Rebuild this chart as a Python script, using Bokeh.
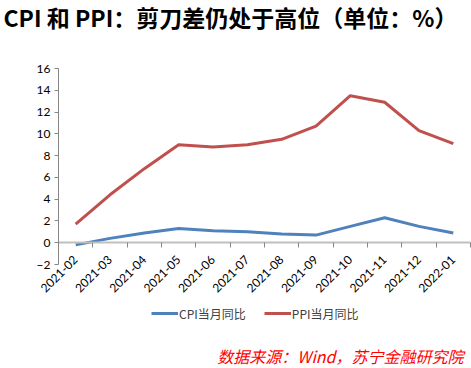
import math
from bokeh.plotting import figure
from bokeh.models import (FixedTicker, Legend, LegendItem, Range1d, Label)
from bokeh.embed import file_html
from bokeh.resources import INLINE

months = ["2021-02", "2021-03", "2021-04", "2021-05", "2021-06", "2021-07",
          "2021-08", "2021-09", "2021-10", "2021-11", "2021-12", "2022-01"]
cpi = [-0.2, 0.4, 0.9, 1.3, 1.1, 1.0, 0.8, 0.7, 1.5, 2.3, 1.5, 0.9]
ppi = [1.7, 4.4, 6.8, 9.0, 8.8, 9.0, 9.5, 10.7, 13.5, 12.9, 10.3, 9.1]
y_ticks = [-2, 0, 2, 4, 6, 8, 10, 12, 14, 16]

title_text = "CPI 和 PPI：剪刀差仍处于高位（单位：%）"
source_text = "数据来源：Wind，苏宁金融研究院"
cpi_name = "CPI当月同比"
ppi_name = "PPI当月同比"

xs = list(range(len(months)))
bounds = [x - 0.5 for x in xs] + [len(xs) - 0.5]
y_lo, y_hi = y_ticks[0], y_ticks[-1]
x_lo, x_hi = -0.5, len(xs) - 0.5

W, H = 471, 368
# plot area in canvas pixels
fx0, fx1, fy0, fy1 = 58, 470, 68, 264
xs_per_px = (x_hi - x_lo) / (fx1 - fx0)
ys_per_px = (y_hi - y_lo) / (fy1 - fy0)
xr = Range1d(x_lo - fx0 * xs_per_px, x_hi + (W - fx1) * xs_per_px)
yr = Range1d(y_lo - (H - fy1) * ys_per_px, y_hi + fy0 * ys_per_px)

p = figure(width=W, height=H, output_backend="svg", toolbar_location=None,
           x_range=xr, y_range=yr,
           min_border_left=0, min_border_right=0, min_border_top=0,
           min_border_bottom=0)
p.outline_line_color = None
p.xgrid.grid_line_color = None
p.ygrid.grid_line_color = None

r1 = p.line(xs, cpi, line_color="#4F81BD", line_width=3)
r2 = p.line(xs, ppi, line_color="#C0504D", line_width=3)

# y axis
p.yaxis.fixed_location = x_lo
p.yaxis.bounds = (y_lo, y_hi)
p.yaxis.ticker = FixedTicker(ticks=y_ticks)
p.yaxis.axis_line_color = "#868686"
p.yaxis.major_tick_line_color = "#868686"
p.yaxis.major_tick_out = 4
p.yaxis.major_tick_in = 0
p.yaxis.minor_tick_line_color = None
p.yaxis.major_label_text_font = "Lato"
p.yaxis.major_label_text_font_size = "12px"
p.yaxis.major_label_text_color = "#000000"
p.yaxis.major_label_standoff = 4

# x axis on the zero line
p.xaxis.fixed_location = 0
p.xaxis.bounds = (x_lo, x_hi)
p.xaxis.ticker = FixedTicker(ticks=xs, minor_ticks=bounds)
p.xaxis.major_label_overrides = {i: m for i, m in enumerate(months)}
p.xaxis.axis_line_color = "#BFBFBF"
p.xaxis.axis_line_width = 2
p.xaxis.major_tick_line_color = None
p.xaxis.minor_tick_line_color = "#868686"
p.xaxis.minor_tick_out = 5
p.xaxis.minor_tick_in = 0
p.xaxis.major_label_orientation = math.pi / 4
p.xaxis.major_label_text_font = "Lato"
p.xaxis.major_label_text_font_size = "12px"
p.xaxis.major_label_text_color = "#000000"
p.xaxis.major_label_standoff = 9

legend = Legend(items=[LegendItem(label=cpi_name, renderers=[r1]),
                       LegendItem(label=ppi_name, renderers=[r2])],
                orientation="horizontal", location=(151, 45),
                label_text_font="Noto Sans CJK SC", label_text_font_size="12px",
                label_text_color="#404040", glyph_width=27, label_standoff=1,
                spacing=18, border_line_color=None, background_fill_alpha=0,
                padding=2, margin=0)
p.add_layout(legend)

t = Label(x=xr.start + 3 * xs_per_px, y=yr.end - 16 * ys_per_px, text=title_text,
          text_font="Noto Sans CJK SC", text_font_size="23px",
          text_font_style="bold", text_color="#000000",
          text_baseline="middle", text_align="left")
p.add_layout(t)

s = Label(x=xr.start + 463 * xs_per_px, y=yr.end - 355 * ys_per_px, text=source_text,
          text_font="Noto Sans CJK SC", text_font_size="16px",
          text_font_style="italic", text_color="#FF0000",
          text_baseline="middle", text_align="right")
p.add_layout(s)

open("out.html", "w").write(file_html(p, INLINE))
